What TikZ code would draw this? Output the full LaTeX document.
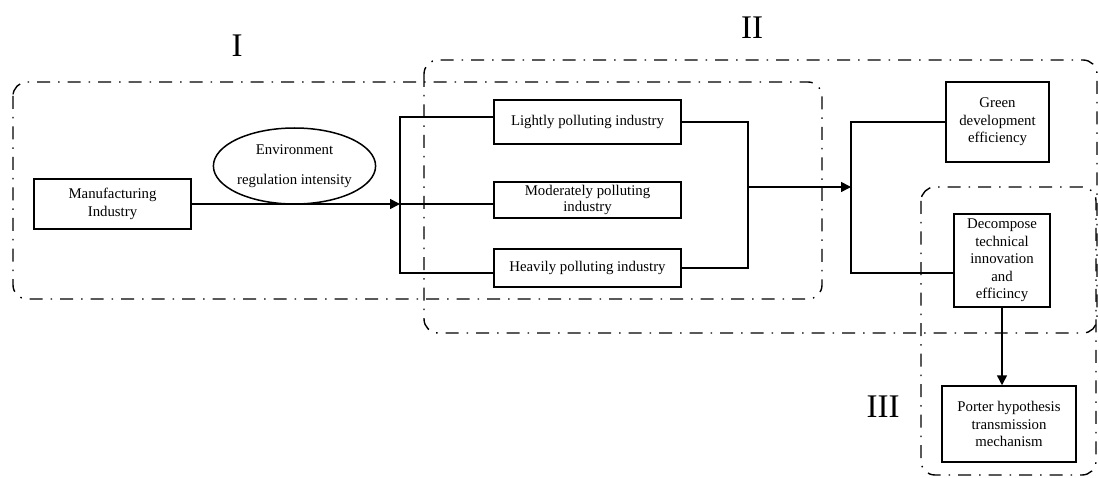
\documentclass[tikz,border=0pt]{standalone}
\usepackage{fontspec}
\setmainfont{Liberation Serif}
\usetikzlibrary{arrows.meta,shapes.geometric}
\begin{document}
\begin{tikzpicture}[x=1pt,y=-1pt,
  box/.style={draw, line width=1.5pt, inner sep=0pt, align=center,
    font=\fontsize{14.8}{17.5}\selectfont},
  ell/.style={draw, ellipse, line width=1.5pt, inner sep=0pt, align=center,
    font=\fontsize{14.8}{17.5}\selectfont},
  region/.style={draw, line width=1.4pt, rounded corners=14pt,
    dash pattern=on 13pt off 8pt on 1.5pt off 8pt},
  roman/.style={font=\fontsize{33}{36}\selectfont, inner sep=0pt},
  conn/.style={line width=1.5pt},
  arr/.style={conn, -{Triangle[length=10pt,width=10pt]}}]
\useasboundingbox (0,0) rectangle (1099,478);

% regions
\draw[region] (13,82) rectangle (822,299);
\draw[region] (424,60) rectangle (1097,333);
\draw[region] (921,187) rectangle (1096,475);

\node[roman] (lI) at (237,45.5) {I};
\node[roman] (lII) at (752,28) {II};
\node[roman] (lIII) at (883,407) {III};

% nodes
\node[box, minimum width=157pt, minimum height=50pt] (man) at (112.5,204) {Manufacturing\\Industry};
\node[ell, minimum width=157pt, minimum height=76pt] (env) at (294.5,166) {Environment\\[13pt]regulation intensity};
\node[box, minimum width=187pt, minimum height=44pt] (light) at (587.5,122) {Lightly polluting industry};
\node[box, minimum width=187pt, minimum height=36pt, font=\fontsize{14.8}{16}\selectfont] (mod) at (587.5,200) {Moderately polluting\\industry};
\node[box, minimum width=187pt, minimum height=38pt] (heavy) at (587.5,268) {Heavily polluting industry};
\node[box, minimum width=103pt, minimum height=80pt] (green) at (997.5,122) {Green\\development\\efficiency};
\node[box, minimum width=96pt, minimum height=93pt] (dec) at (1002,260.5) {Decompose\\technical\\innovation\\and\\efficincy};
\node[box, minimum width=134pt, minimum height=76pt] (porter) at (1009,424) {Porter hypothesis\\transmission\\mechanism};

% junction coordinates
\coordinate (j1) at (400,204);
\coordinate (jt) at (400,117);
\coordinate (jb) at (400,273);
\coordinate (k) at (748,187);
\coordinate (m) at (851,187);
\coordinate (mb) at (851,273);

% connectors
\draw[arr] (man.east) -- (j1);
\draw[conn] (light.west |- jt) -- (jt) -- (jb) -- (heavy.west |- jb);
\draw[conn] (j1) -- (mod.west |- j1);
\draw[conn] (light.east) -| (k) |- (heavy.east);
\draw[arr] (k) -- (m);
\draw[conn] (green.west) -| (mb) -- (dec.west |- mb);
\draw[arr] (dec.south) -- (dec.south |- porter.north);
\end{tikzpicture}
\end{document}
